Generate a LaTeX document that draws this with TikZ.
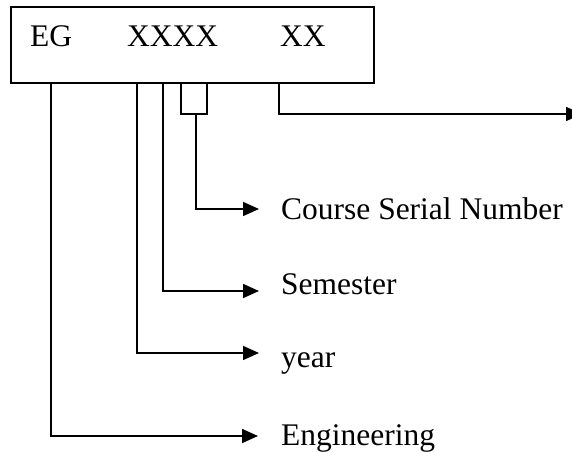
\documentclass[tikz,border=0pt]{standalone}
\usepackage{fontspec}
\setmainfont{Liberation Serif}
\usetikzlibrary{arrows.meta}
\begin{document}
\begin{tikzpicture}[x=1bp,y=-1bp,
  lbl/.style={anchor=base west,inner sep=0pt,font=\fontsize{31.6}{38}\selectfont},
  conn/.style={line width=1.6bp},
  arr/.style={conn,-{Triangle[length=16bp,width=14bp]}}]
\useasboundingbox (0,0) rectangle (572,452);
\clip (0,0) rectangle (572,452);
\fill[white] (0,0) rectangle (572,452);
\node[draw,line width=1.8bp,minimum width=363bp,minimum height=76bp,anchor=north west,inner sep=0pt] (box) at (10,6) {};
\node[lbl] (eg) at (30,47) {EG};
\node[lbl] (xxxx) at (127,47) {XXXX};
\node[lbl] (xx) at (280,47) {XX};
\node[lbl] (csn) at (281,220) {Course Serial Number};
\node[lbl] (sem) at (281,294) {Semester};
\node[lbl] (yr) at (281,367) {year};
\node[lbl] (eng) at (281,445) {Engineering};
\coordinate (s1) at (51,82);
\coordinate (s2) at (137,82);
\coordinate (s3) at (163,82);
\coordinate (b1) at (181,82);
\coordinate (b2) at (207,82);
\coordinate (st) at (196,114);
\coordinate (s5) at (279,82);
\coordinate (t1) at (259,209);
\coordinate (t2) at (259,291);
\coordinate (t3) at (259,353);
\coordinate (t4) at (258,436);
\coordinate (t5) at (582,114);
\draw[arr] (s1) |- (t4);
\draw[arr] (s2) |- (t3);
\draw[arr] (s3) |- (t2);
\draw[conn] (b1) |- (st) -| (b2);
\draw[arr] (st) |- (t1);
\draw[arr] (s5) |- (t5);
\end{tikzpicture}
\end{document}
